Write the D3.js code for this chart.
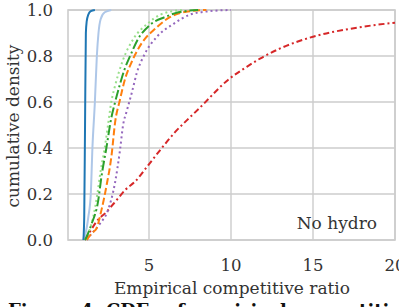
<!DOCTYPE html>
<html>
<head>
<meta charset="utf-8">
<script src="https://cdn.jsdelivr.net/npm/d3@7"></script>
<style>
  html, body { margin: 0; padding: 0; background: #fff; overflow: hidden; }
  svg { display: block; }
  text { font-family: "DejaVu Serif", "Liberation Serif", serif; fill: #333; }
</style>
</head>
<body>
<div id="chart"></div>
<script>
// ── Data ───────────────────────────────────────────────────────────────────
const xTicks = [5, 10, 15, 20];
const yTicks = [0, 0.2, 0.4, 0.6, 0.8, 1.0];

const darkBlueX = [1, 1.05, 1.1, 1.15, 1.2, 1.3, 1.45, 1.7];
const darkBlueY = [0, 0.1, 0.5, 0.9, 0.95, 0.98, 0.995, 1];

const lightBlueX = [1, 1.1, 1.3, 1.45, 1.55, 1.7, 1.82, 1.92, 2.05, 2.3, 2.7];
const lightBlueY = [0, 0.02, 0.1, 0.2, 0.4, 0.6, 0.8, 0.9, 0.96, 0.99, 1];

const greenX = [1.1, 1.2, 1.5, 1.9, 2.1, 2.4, 2.7, 2.9, 3.2, 3.5, 3.85, 4.3, 5.06, 6, 6.8, 8];
const greenY = [0, 0.015, 0.07, 0.17, 0.275, 0.4, 0.53, 0.59, 0.67, 0.74, 0.8, 0.87, 0.935, 0.97, 0.99, 1];

const lightGreenX = [1.1, 1.3, 1.6, 1.85, 2.05, 2.3, 2.5, 2.7, 2.93, 3.4, 4.1, 4.9, 5.7, 7];
const lightGreenY = [0, 0.03, 0.1, 0.2, 0.3, 0.4, 0.5, 0.6, 0.67, 0.78, 0.88, 0.94, 0.98, 1];

const orangeX = [1.2, 1.35, 1.6, 1.8, 2.1, 2.42, 2.72, 2.93, 3.23, 3.54, 3.95, 4.55, 5.4, 6.3, 7.5, 8.5];
const orangeY = [0, 0.015, 0.035, 0.05, 0.13, 0.24, 0.37, 0.51, 0.61, 0.7, 0.775, 0.855, 0.92, 0.97, 0.995, 1];

const purpleX = [1.2, 1.3, 2.0, 2.5, 2.93, 3.23, 3.42, 3.64, 3.95, 4.25, 4.75, 5.5, 6.5, 7.5, 8.7, 10];
const purpleY = [0, 0.01, 0.07, 0.13, 0.25, 0.39, 0.5, 0.56, 0.64, 0.725, 0.81, 0.885, 0.94, 0.98, 0.995, 1];

const redX = [1.1, 1.4, 1.8, 2.42, 3.03, 3.54, 4.15, 4.96, 5.67, 6.6, 7.3, 8.1, 9.8, 10.96, 11.8, 13, 15, 17.4, 20];
const redY = [0, 0.036, 0.08, 0.123, 0.174, 0.217, 0.254, 0.326, 0.39, 0.47, 0.52, 0.575, 0.695, 0.753, 0.79, 0.833, 0.884, 0.92, 0.945];

// ── Series styling ─────────────────────────────────────────────────────────
const series = [
  { x: lightBlueX, y: lightBlueY, color: "#aec7e8", dash: null },
  { x: darkBlueX, y: darkBlueY, color: "#1f77b4", dash: null },
  { x: redX, y: redY, color: "#d62728", dash: "6,3,2,3" },
  { x: purpleX, y: purpleY, color: "#9467bd", dash: "2,3" },
  { x: orangeX, y: orangeY, color: "#ff7f0e", dash: "7,3" },
  { x: lightGreenX, y: lightGreenY, color: "#98df8a", dash: "2,3" },
  { x: greenX, y: greenY, color: "#2ca02c", dash: "10,3,2,3" },
];

// ── Dimensions ─────────────────────────────────────────────────────────────
const W = 399, H = 307;
const plot = { left: 68, right: 395, top: 10, bottom: 240 };

const svg = d3.select("#chart")
  .append("svg")
  .attr("width", W)
  .attr("height", H);

const xScale = d3.scaleLinear().domain([0, 20]).range([67, 395]);
const yScale = d3.scaleLinear().domain([0, 1]).range([plot.bottom, plot.top]);

// ── Grid ───────────────────────────────────────────────────────────────────
svg.append("g")
  .selectAll("line")
  .data(yTicks)
  .join("line")
  .attr("x1", plot.left).attr("x2", plot.right)
  .attr("y1", (d) => yScale(d)).attr("y2", (d) => yScale(d))
  .attr("stroke", "#cccccc").attr("stroke-width", 1.4);

svg.append("g")
  .selectAll("line")
  .data(xTicks)
  .join("line")
  .attr("x1", (d) => xScale(d)).attr("x2", (d) => xScale(d))
  .attr("y1", plot.top).attr("y2", plot.bottom)
  .attr("stroke", "#cccccc").attr("stroke-width", 1.4);

// frame
svg.append("rect")
  .attr("x", plot.left).attr("y", plot.top)
  .attr("width", plot.right - plot.left)
  .attr("height", plot.bottom - plot.top)
  .attr("fill", "none")
  .attr("stroke", "#cccccc").attr("stroke-width", 1.6);

// ── Tick labels ────────────────────────────────────────────────────────────
svg.append("g")
  .selectAll("text")
  .data(yTicks)
  .join("text")
  .attr("x", 53)
  .attr("y", (d) => yScale(d) + 6)
  .attr("text-anchor", "end")
  .style("font-size", "16.5px")
  .text((d) => d.toFixed(1));

svg.append("g")
  .selectAll("text")
  .data(xTicks)
  .join("text")
  .attr("x", (d) => xScale(d))
  .attr("y", 271)
  .attr("text-anchor", "middle")
  .style("font-size", "16.5px")
  .text((d) => d);

// ── Axis labels ────────────────────────────────────────────────────────────
svg.append("text")
  .attr("x", 232)
  .attr("y", 294)
  .attr("text-anchor", "middle")
  .style("font-size", "17px")
  .text("Empirical competitive ratio");

svg.append("text")
  .attr("transform", "rotate(-90)")
  .attr("x", -126)
  .attr("y", 19)
  .attr("text-anchor", "middle")
  .style("font-size", "17px")
  .text("cumulative density");

// ── Curves ─────────────────────────────────────────────────────────────────
const line = d3.line()
  .x((d) => xScale(d[0]))
  .y((d) => yScale(d[1]))
  .curve(d3.curveMonotoneX);

series.forEach((s) => {
  svg.append("path")
    .datum(s.x.map((v, i) => [v, s.y[i]]))
    .attr("d", line)
    .attr("fill", "none")
    .attr("stroke", s.color)
    .attr("stroke-width", 2)
    .attr("stroke-dasharray", s.dash);
});

// ── Annotation ─────────────────────────────────────────────────────────────
svg.append("text")
  .attr("x", 377)
  .attr("y", 229)
  .attr("text-anchor", "end")
  .style("font-size", "17px")
  .text("No hydro");

// ── Caption (cut off by the frame) ─────────────────────────────────────────
svg.append("text")
  .attr("x", 8)
  .attr("y", 317)
  .style("font-size", "18px")
  .style("font-weight", "bold")
  .style("fill", "#111")
  .text("Figure 4: CDFs of empirical competitive ratios");
</script>
</body>
</html>
